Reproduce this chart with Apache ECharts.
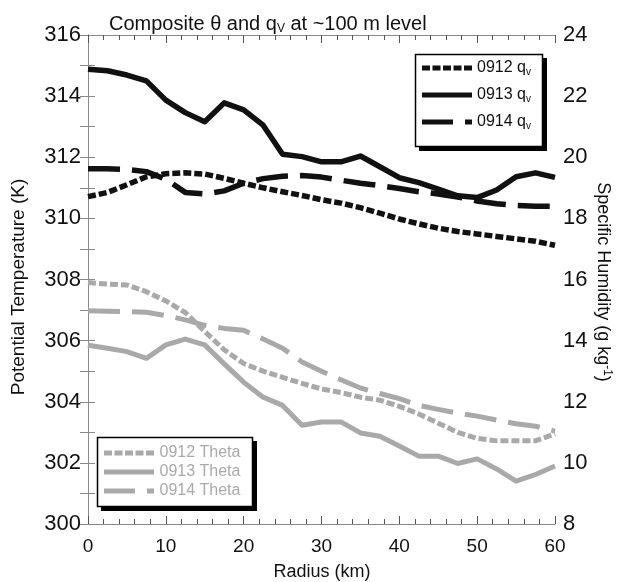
<!DOCTYPE html>
<html><head><meta charset="utf-8">
<script src="https://cdn.jsdelivr.net/npm/echarts@6/dist/echarts.min.js"></script>
<style>html,body{margin:0;padding:0;background:#fff}#c{width:618px;height:582px}</style>
</head><body><div id="c"></div>
<script>
var radius = [0,2.5,5,7.5,10,12.5,15,17.5,20,22.5,25,27.5,30,32.5,35,37.5,40,42.5,45,47.5,50,52.5,55,57.5,60];
var qv0912 = [18.71,18.85,19.10,19.36,19.46,19.49,19.45,19.31,19.15,19.00,18.87,18.75,18.61,18.50,18.35,18.17,17.98,17.82,17.68,17.57,17.49,17.41,17.33,17.25,17.12];
var qv0913 = [22.88,22.83,22.69,22.50,21.87,21.46,21.16,21.78,21.55,21.05,20.10,20.02,19.85,19.85,20.04,19.69,19.33,19.17,18.96,18.74,18.68,18.93,19.36,19.49,19.34];
var qv0914 = [19.62,19.62,19.60,19.53,19.28,18.85,18.80,18.90,19.15,19.30,19.38,19.40,19.35,19.25,19.15,19.07,18.98,18.87,18.80,18.70,18.57,18.48,18.42,18.40,18.40];
var th0912 = [307.90,307.85,307.82,307.60,307.30,306.92,306.30,305.70,305.25,305.00,304.80,304.60,304.42,304.30,304.15,304.05,303.85,303.60,303.30,303.00,302.80,302.72,302.72,302.72,302.95];
var th0913 = [305.85,305.75,305.64,305.42,305.86,306.05,305.86,305.24,304.64,304.15,303.88,303.23,303.34,303.34,302.98,302.87,302.55,302.22,302.22,301.98,302.13,301.80,301.40,301.62,301.90];
var th0914 = [306.98,306.96,306.95,306.93,306.82,306.68,306.50,306.40,306.34,306.05,305.75,305.30,305.00,304.72,304.45,304.27,304.10,303.88,303.75,303.63,303.53,303.40,303.28,303.20,303.04];
var qvNames = ['0912 qv','0913 qv','0914 qv'];
var thNames = ['0912 Theta','0913 Theta','0914 Theta'];

function pairs(ys){ return radius.map(function(r,i){ return [r, ys[i]]; }); }
var FF = "'Liberation Sans', Arial, sans-serif";
var BLACK = '#111', GRAY = '#a9a9a9';
var SHORT = [8,3], LONG = [32,12];
var ICON_SHORT = 'path://M0,0h8v5h-8z M10.5,0h8v5h-8z M21,0h8v5h-8z M31.5,0h8v5h-8z M42,0h8v5h-8z';
var ICON_SOLID = 'path://M0,0h50v5h-50z';
var ICON_LONG = 'path://M0,0h31v5h-31z M43,0h7v5h-7z';
var icons = [ICON_SHORT, ICON_SOLID, ICON_LONG];

var chart = echarts.init(document.getElementById('c'), null, {renderer:'canvas'});
function mkLine(name, ys, axis, color, dash){
  return {name:name, type:'line', yAxisIndex:axis, data:pairs(ys), showSymbol:false, symbol:'none',
    lineStyle:{color:color, width: axis===1?5.5:5, type:dash, cap:'butt', join:'round'},
    itemStyle:{color:color}, silent:true, animation:false};
}
var axisLineStyle = {color:'#8a8a8a', width:1};
chart.setOption({
  animation:false,
  title:{text:'{a|Composite θ and q}{s|V}{a| at ~100 m level}', left:104, top:8,
    textStyle:{fontWeight:'normal', rich:{a:{fontFamily:FF, fontSize:20, color:'#111', fontWeight:'normal'}, s:{fontFamily:FF, fontSize:12, color:'#111', fontWeight:'normal', padding:[10,0,0,0]}}}},
  grid:{left:88, right:63, top:35, bottom:58},
  graphic:[
    {type:'rect', z:10, shape:{x:419, y:58, width:128, height:93}, style:{fill:'#000'}},
    {type:'rect', z:11, shape:{x:415.5, y:54.5, width:127, height:92}, style:{fill:'#fff', stroke:'#000', lineWidth:1.5}},
    {type:'rect', z:10, shape:{x:101, y:441, width:156, height:70}, style:{fill:'#000'}},
    {type:'rect', z:11, shape:{x:97.5, y:437.5, width:155, height:69}, style:{fill:'#fff', stroke:'#000', lineWidth:1.5}},
    {type:'text', z:11, x:19, y:287, rotation:Math.PI/2,
     style:{text:'Potential Temperature (K)', fontFamily:FF, fontSize:19, fill:'#111', align:'center', verticalAlign:'middle'}},
    {type:'text', z:11, x:603, y:282, rotation:-Math.PI/2,
     style:{text:'{a|Specific Humidity (g kg}{s|-1}{a|)}', align:'center', verticalAlign:'middle',
       rich:{a:{fontFamily:FF, fontSize:18, fill:'#111'}, s:{fontFamily:FF, fontSize:12, fill:'#111', padding:[0,0,9,0]}}}},
    {type:'text', z:11, x:322, y:572,
     style:{text:'Radius (km)', fontFamily:FF, fontSize:18, fill:'#111', align:'center', verticalAlign:'middle'}}
  ],
  legend:[
    {data:qvNames.map(function(n,i){return {name:n, icon:icons[i]};}), orient:'vertical', left:422, top:60, itemWidth:50, itemHeight:5, itemGap:9.5,
     z:20, padding:0,
     formatter:function(n){ return '{a|'+n.slice(0,6)+'}{s|v}'; },
     textStyle:{rich:{a:{fontFamily:FF, fontSize:16, color:'#111', lineHeight:20}, s:{fontFamily:FF, fontSize:10, color:'#111', padding:[9,0,0,0]}}}},
    {data:thNames.map(function(n,i){return {name:n, icon:icons[i]};}), orient:'vertical', left:104, top:444, itemWidth:51, itemHeight:5, itemGap:1,
     z:20, padding:0,
     textStyle:{fontFamily:FF, fontSize:16, color:GRAY, lineHeight:18}}
  ],
  xAxis:[
    {type:'value', min:0, max:60, interval:10, position:'bottom',
     axisLine:{lineStyle:axisLineStyle}, axisTick:{inside:true, length:8, lineStyle:{color:'#555'}},
     minorTick:{show:true, splitNumber:5, length:5, lineStyle:{color:'#555'}},
     splitLine:{show:false},
     axisLabel:{fontFamily:FF, fontSize:19, color:'#111', margin:13}},
    {type:'value', min:0, max:60, interval:10, position:'top',
     axisLine:{lineStyle:axisLineStyle}, axisTick:{inside:true, length:8, lineStyle:{color:'#555'}},
     minorTick:{show:true, splitNumber:5, length:5, lineStyle:{color:'#555'}},
     splitLine:{show:false}, axisLabel:{show:false}}
  ],
  yAxis:[
    {type:'value', min:300, max:316, interval:2, position:'left',
     axisLine:{show:true, lineStyle:axisLineStyle}, axisTick:{show:true, inside:true, length:7, lineStyle:{color:'#888'}},
     minorTick:{show:true, splitNumber:2, length:7, lineStyle:{color:'#888'}},
     splitLine:{show:false},
     axisLabel:{fontFamily:FF, fontSize:22, color:'#111', margin:7}},
    {type:'value', min:8, max:24, interval:2, position:'right',
     axisLine:{show:true, lineStyle:axisLineStyle}, axisTick:{show:true, inside:true, length:8, lineStyle:{color:'#888'}},
     minorTick:{show:true, splitNumber:2, length:8, lineStyle:{color:'#888'}},
     splitLine:{show:false},
     axisLabel:{fontFamily:FF, fontSize:22, color:'#111', margin:8}}
  ],
  series:[
    mkLine(qvNames[0], qv0912, 1, BLACK, SHORT),
    mkLine(qvNames[1], qv0913, 1, BLACK, 'solid'),
    mkLine(qvNames[2], qv0914, 1, BLACK, LONG),
    mkLine(thNames[0], th0912, 0, GRAY, SHORT),
    mkLine(thNames[1], th0913, 0, GRAY, 'solid'),
    mkLine(thNames[2], th0914, 0, GRAY, LONG)
  ]
});
</script></body></html>
